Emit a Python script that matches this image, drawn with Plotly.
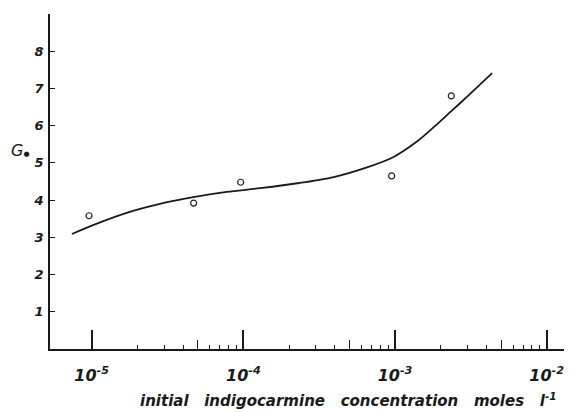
import plotly.graph_objects as go

# Measured data points (open circles)
conc_pts = [9.6e-6, 4.7e-5, 9.6e-5, 9.5e-4, 2.35e-3]
g_pts = [3.58, 3.92, 4.48, 4.65, 6.80]

# Smooth curve
conc_curve = [7.4e-6, 1.02e-5, 1.70e-5, 2.82e-5, 4.68e-5, 7.76e-5, 1.29e-4,
              2.34e-4, 3.94e-4, 6.53e-4, 9.79e-4, 1.40e-3, 1.80e-3, 2.32e-3,
              2.99e-3, 4.37e-3]
g_curve = [3.09, 3.33, 3.66, 3.90, 4.08, 4.22, 4.32,
           4.46, 4.62, 4.88, 5.16, 5.58, 5.96, 6.37,
           6.78, 7.41]

# Tick positions / labels
major_vals = [1e-5, 1e-4, 1e-3, 1e-2]
major_text = ["10<sup>-5</sup>", "10<sup>-4</sup>", "10<sup>-3</sup>", "10<sup>-2</sup>"]
decades = [1e-5, 1e-4, 1e-3]
minor_digits = [2, 3, 4, 6, 7, 8, 9]
mid_digit = 5
y_ticks = [1, 2, 3, 4, 5, 6, 7, 8]

minor_vals = [d * m for d in decades for m in minor_digits]
mid_vals = [d * mid_digit for d in decades]

FONT = "DejaVu Sans"
xr = [-5.275, -1.866]
INK = "#1a1a1a"

fig = go.Figure()
fig.add_trace(go.Scatter(x=conc_curve, y=g_curve, mode="lines",
                         line=dict(color=INK, width=1.8, shape="spline", smoothing=0.8),
                         hoverinfo="skip", showlegend=False))
fig.add_trace(go.Scatter(x=conc_pts, y=g_pts, mode="markers",
                         marker=dict(symbol="circle-open", size=6, color="#222",
                                     line=dict(width=1.2, color="#222")),
                         showlegend=False))
# invisible traces to activate overlay tick axes
fig.add_trace(go.Scatter(x=[1e-4], y=[0], xaxis="x2", mode="markers",
                         marker=dict(opacity=0), showlegend=False, hoverinfo="skip"))
fig.add_trace(go.Scatter(x=[1e-4], y=[0], xaxis="x3", mode="markers",
                         marker=dict(opacity=0), showlegend=False, hoverinfo="skip"))

# the page body adds an 8px offset, so the figure is 8px smaller on each axis
fig.update_layout(
    width=564, height=404,
    margin=dict(l=42, r=5, t=6, b=63),
    paper_bgcolor="white", plot_bgcolor="white",
    font=dict(family=FONT, color=INK),
    xaxis=dict(type="log", range=xr, showgrid=False, zeroline=False, automargin=False,
               showline=True, linecolor=INK, linewidth=1.5,
               ticks="inside", ticklen=19, tickwidth=1.5, tickcolor=INK,
               tickvals=major_vals, ticktext=major_text,
               ticklabelstandoff=11,
               tickfont=dict(family=FONT, size=16, style="italic", weight="bold")),
    xaxis2=dict(type="log", range=xr, overlaying="x", anchor="y", side="bottom",
                showgrid=False, zeroline=False, showline=False, automargin=False,
                ticks="inside", ticklen=4, tickwidth=1.2, tickcolor=INK,
                tickvals=minor_vals, showticklabels=False),
    xaxis3=dict(type="log", range=xr, overlaying="x", anchor="y", side="bottom",
                showgrid=False, zeroline=False, showline=False, automargin=False,
                ticks="inside", ticklen=9, tickwidth=1.2, tickcolor=INK,
                tickvals=mid_vals, showticklabels=False),
    yaxis=dict(range=[0, 9], showgrid=False, zeroline=False, automargin=False,
               showline=True, linecolor=INK, linewidth=1.5,
               ticks="inside", ticklen=5, tickwidth=1.3, tickcolor=INK,
               tickvals=y_ticks, ticktext=[str(v) for v in y_ticks],
               ticklabelstandoff=2,
               tickfont=dict(family=FONT, size=13, style="italic", weight="bold")),
    annotations=[
        dict(text="G<span style='font-size:7px'>●</span>", xref="paper", yref="paper",
             x=-0.079, y=0.594, xanchor="left", yanchor="middle", showarrow=False,
             font=dict(family=FONT, size=16, style="italic")),
        dict(text="initial   indigocarmine   concentration   moles   l<sup>-1</sup>",
             xref="paper", yref="paper", x=0.578, y=-0.152,
             xanchor="center", yanchor="middle", showarrow=False,
             font=dict(family=FONT, size=15, style="italic", weight="bold")),
    ],
)

fig.write_html("out.html")
